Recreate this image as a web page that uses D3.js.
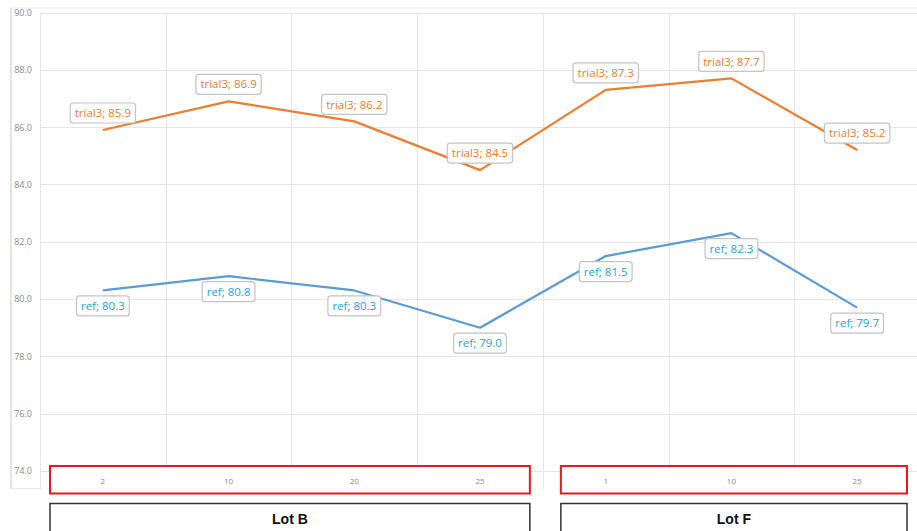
<!DOCTYPE html>
<html>
<head>
<meta charset="utf-8">
<script src="https://cdn.jsdelivr.net/npm/d3@7"></script>
<style>
  html, body { margin: 0; padding: 0; background: #fff; }
  svg { display: block; }
  text { font-family: "Open Sans", "Noto Sans", sans-serif; }
</style>
</head>
<body>
<svg id="chart" width="917" height="531"></svg>
<script>
// Sample points along the x axis (two lots)
const categories = ["2", "10", "20", "25", "1", "10", "25"];
const trial3 = [85.9, 86.9, 86.2, 84.5, 87.3, 87.7, 85.2];
const ref = [80.3, 80.8, 80.3, 79.0, 81.5, 82.3, 79.7];
const yTicks = [74, 76, 78, 80, 82, 84, 86, 88, 90];
const lotNames = ["Lot B", "Lot F"];
const lotStart = [0, 4];
const lotEnd = [3, 6];

const svg = d3.select("#chart");
const W = 917;

const x = d3.scaleBand()
  .domain(d3.range(categories.length))
  .range([40, 920]);
const y = d3.scaleLinear().domain([74, 90]).range([471, 12.5]);
const cx = i => x(i) + x.bandwidth() / 2;

// frame lines (left edge and top)
svg.append("line").attr("x1", 11).attr("x2", 11).attr("y1", 8).attr("y2", 489)
  .attr("stroke", "#c8c8c8").attr("stroke-width", 1);
svg.append("line").attr("x1", 11).attr("x2", W).attr("y1", 8).attr("y2", 8)
  .attr("stroke", "#ececec").attr("stroke-width", 1);
svg.append("line").attr("x1", 11).attr("x2", 40).attr("y1", 488.5).attr("y2", 488.5)
  .attr("stroke", "#e6e6e6").attr("stroke-width", 1);

// horizontal gridlines
svg.append("g").selectAll("line").data(yTicks).join("line")
  .attr("x1", 40).attr("x2", W)
  .attr("y1", d => Math.round(y(d)) + 0.5).attr("y2", d => Math.round(y(d)) + 0.5)
  .attr("stroke", "#e6e6e6").attr("stroke-width", 1);

// vertical gridlines at category boundaries
const bounds = d3.range(categories.length + 1).map(i => i < categories.length ? x(i) : x(i - 1) + x.bandwidth());
svg.append("g").selectAll("line").data(bounds).join("line")
  .attr("x1", d => Math.round(d) + 0.5).attr("x2", d => Math.round(d) + 0.5)
  .attr("y1", y(90)).attr("y2", 489)
  .attr("stroke", "#e6e6e6").attr("stroke-width", 1);

// y axis labels
const yAxis = d3.axisLeft(y).tickValues(yTicks).tickFormat(d3.format(".1f"))
  .tickSize(0).tickPadding(8);
const gy = svg.append("g").attr("transform", "translate(40,0)").call(yAxis);
gy.select(".domain").remove();
gy.selectAll("text").attr("fill", "#8a8a8a").style("font-size", "9px")
  .style("font-family", "'Open Sans', sans-serif");

// lot boxes: red frame around the category labels, black frame with lot name
const lotInsetL = [10, 18];
const lotInsetR = 13;
lotNames.forEach((name, k) => {
  const x0 = x(lotStart[k]) + lotInsetL[k];
  const x1 = x(lotEnd[k]) + x.bandwidth() - lotInsetR;
  svg.append("rect").attr("x", x0).attr("y", 466).attr("width", x1 - x0).attr("height", 27.5)
    .attr("fill", "#fff").attr("stroke", "#e31b1b").attr("stroke-width", 2);
  svg.append("rect").attr("x", x0).attr("y", 503.5).attr("width", x1 - x0).attr("height", 40)
    .attr("fill", "none").attr("stroke", "#333").attr("stroke-width", 1.5);
  svg.append("text").attr("x", (x0 + x1) / 2).attr("y", 524)
    .attr("text-anchor", "middle").attr("fill", "#111")
    .style("font-family", "'Liberation Sans', Arial, sans-serif")
    .style("font-size", "14px").style("font-weight", "bold").text(name);
});

// x axis labels (drawn inside the red frames)
const xAxis = d3.axisBottom(x).tickFormat(i => categories[i]).tickSize(0).tickPadding(7);
const gx = svg.append("g").attr("transform", "translate(0,471)").call(xAxis);
gx.select(".domain").remove();
gx.selectAll("text").attr("fill", "#8a8a8a").style("font-size", "8px")
  .style("font-family", "'Open Sans', sans-serif");

// series
const series = [
  { name: "trial3", values: trial3, color: "#ed7d31", text: "#ed7d31", dy: -17 },
  { name: "ref", values: ref, color: "#5b9bd5", text: "#23a6dc", dy: 15.5 }
];

const line = d3.line().x((d, i) => cx(i)).y(d => y(d));

series.forEach(s => {
  svg.append("path").datum(s.values).attr("d", line)
    .attr("fill", "none").attr("stroke", s.color).attr("stroke-width", 2.2)
    .attr("stroke-linejoin", "round");
});

// data labels
series.forEach(s => {
  s.values.forEach((v, i) => {
    const g = svg.append("g").attr("transform", `translate(${cx(i)},${y(v) + s.dy})`);
    const t = g.append("text").attr("text-anchor", "middle").attr("dy", "0.36em")
      .attr("fill", s.text).style("font-size", "11.5px")
      .text(`${s.name}; ${v.toFixed(1)}`);
    const w = t.node().getComputedTextLength() + 9;
    g.insert("rect", "text").attr("x", -w / 2).attr("y", -10).attr("width", w).attr("height", 20)
      .attr("rx", 3).attr("fill", "#fff").attr("stroke", "#c4c4c4").attr("stroke-width", 1.2);
  });
});
</script>
</body>
</html>
